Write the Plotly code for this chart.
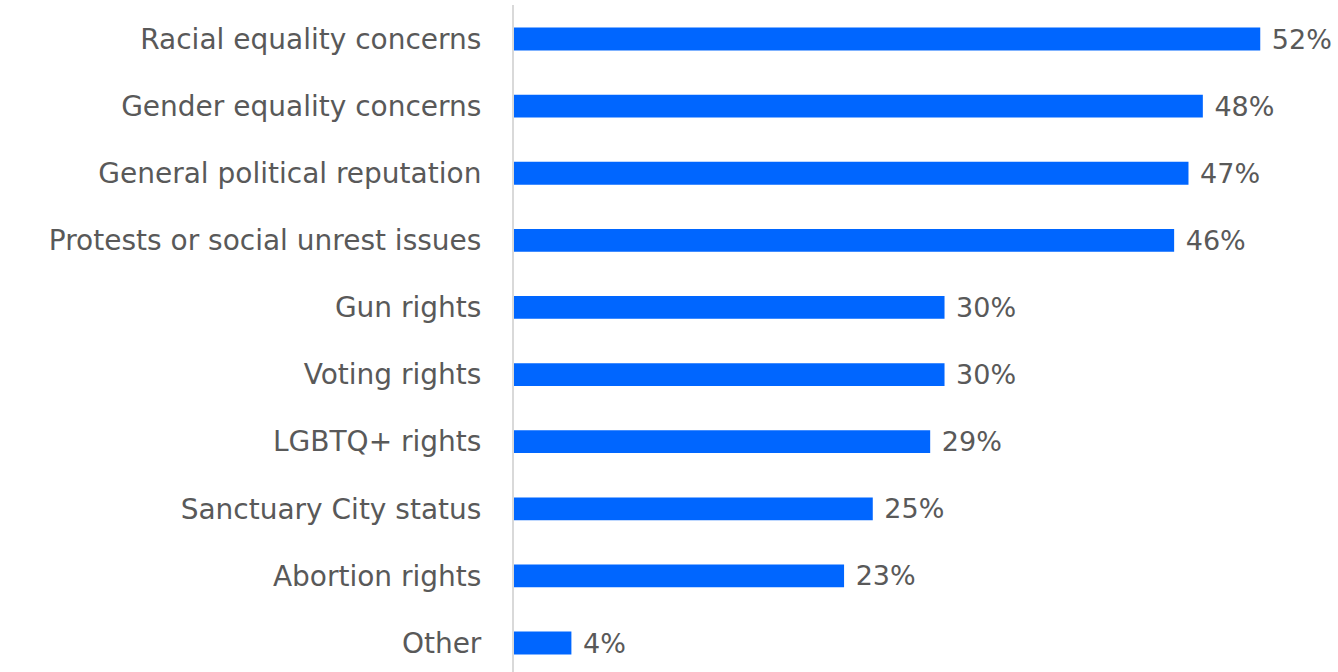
import plotly.graph_objects as go

categories = [
    "Racial equality concerns",
    "Gender equality concerns",
    "General political reputation",
    "Protests or social unrest issues",
    "Gun rights",
    "Voting rights",
    "LGBTQ+ rights",
    "Sanctuary City status",
    "Abortion rights",
    "Other",
]
values = [52, 48, 47, 46, 30, 30, 29, 25, 23, 4]

TEXT_COLOR = "#595959"
BAR_COLOR = "#0066FF"
FONT = "DejaVu Sans"

positions = list(range(len(categories)))

fig = go.Figure(
    go.Bar(
        x=values,
        y=positions,
        orientation="h",
        marker=dict(color=BAR_COLOR, line=dict(width=0)),
        width=0.34,
        texttemplate=" %{x}%",
        textposition="outside",
        constraintext="none",
        textfont=dict(family=FONT, size=27, color=TEXT_COLOR),
        cliponaxis=False,
        hoverinfo="skip",
    )
)

fig.update_layout(
    width=1338,
    height=672,
    margin=dict(l=514, r=6, t=5, b=0),
    paper_bgcolor="white",
    plot_bgcolor="white",
    showlegend=False,
    font=dict(family=FONT, color=TEXT_COLOR),
)

fig.update_xaxes(
    range=[0, 57],
    showgrid=False,
    zeroline=False,
    showticklabels=False,
    showline=False,
)

fig.update_yaxes(
    range=[9.432, -0.507],
    tickmode="array",
    tickvals=positions,
    ticktext=categories,
    tickfont=dict(family=FONT, size=28, color=TEXT_COLOR),
    ticklabelstandoff=25,
    ticks="",
    showgrid=False,
    zeroline=False,
    showline=True,
    linecolor="#D9D9D9",
    linewidth=2,
)

fig.write_html("out.html")
